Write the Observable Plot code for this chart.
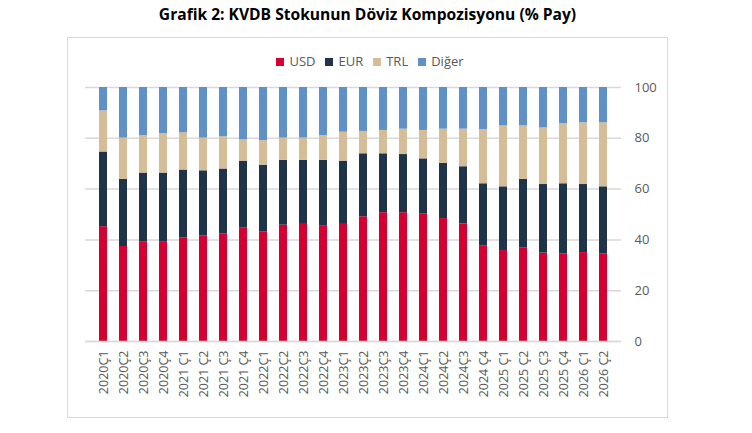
<!DOCTYPE html>
<html>
<head>
<meta charset="utf-8">
<script src="https://cdn.jsdelivr.net/npm/d3@7"></script>
<script src="https://cdn.jsdelivr.net/npm/@observablehq/plot@0.6"></script>
<style>
  html, body { margin: 0; padding: 0; background: #fff; }
  #wrap { position: relative; width: 752px; height: 433px; font-family: "Open Sans", sans-serif; }
  #title { position: absolute; left: 0; top: 3px; width: 735px; text-align: center; font-weight: 700; font-size: 15.6px; color: #000; }
  #frame { position: absolute; left: 67px; top: 37px; width: 599px; height: 379px; border: 1.5px solid #d9d9d9; }
  #legend { position: absolute; left: 0; top: 52px; width: 740px; text-align: center; font-size: 13px; color: #595959; }
  #legend span.item { margin: 0 5px; }
  #legend span.sw { display: inline-block; width: 8px; height: 8px; margin-right: 5px; vertical-align: 0px; }
  #chart { position: absolute; left: 68px; top: 72px; }
</style>
</head>
<body>
<div id="wrap">
  <div id="title">Grafik 2: KVDB Stokunun Döviz Kompozisyonu (% Pay)</div>
  <div id="frame"></div>
  <div id="legend"></div>
  <div id="chart"></div>
</div>
<script>
const quarters = ["2020Ç1","2020Ç2","2020Ç3","2020Ç4","2021 Ç1","2021 Ç2","2021 Ç3","2021 Ç4","2022Ç1","2022Ç2","2022Ç3","2022Ç4","2023Ç1","2023Ç2","2023Ç3","2023Ç4","2024Ç1","2024Ç2","2024Ç3","2024 Ç4","2025 Ç1","2025 Ç2","2025 Ç3","2025 Ç4","2026 Ç1","2026 Ç2"];
const usd   = [45.2,37.4,39.1,39.1,40.8,41.5,42.4,44.8,43.2,45.8,46.1,45.6,46.1,49.1,50.7,50.7,50.3,48.4,46.3,37.7,35.8,36.9,34.8,34.5,35.0,34.5];
const eur   = [29.4,26.4,27.2,27.2,26.7,25.7,25.5,26.2,26.2,25.5,25.2,25.7,24.9,24.8,23.2,22.9,21.6,21.7,22.5,24.4,25.1,26.9,27.0,27.6,26.8,26.4];
const trl   = [16.2,16.3,14.8,15.5,14.7,12.9,12.7,8.4,9.7,8.8,8.8,9.8,11.4,8.8,9.2,10.0,11.2,13.5,14.8,21.3,24.0,21.1,22.3,23.7,24.3,25.2];
const diger = [9.2,19.9,18.9,18.2,17.8,19.9,19.4,20.6,20.9,19.9,19.9,18.9,17.6,17.3,16.9,16.4,16.9,16.4,16.4,16.6,15.1,15.1,15.9,14.2,13.9,13.9];
const seriesNames = ["USD","EUR","TRL","Diğer"];
const seriesColors = ["#d50032","#1f3349","#d5bd97","#6090c8"];
const yTicks = [0,20,40,60,80,100];

const seriesValues = [usd, eur, trl, diger];
const rows = [];
quarters.forEach((q, i) => {
  seriesNames.forEach((s, j) => rows.push({q, s, v: seriesValues[j][i]}));
});

const legend = document.getElementById("legend");
seriesNames.forEach((s, j) => {
  const it = document.createElement("span");
  it.className = "item";
  it.innerHTML = `<span class="sw" style="background:${seriesColors[j]}"></span>${s}`;
  legend.appendChild(it);
});

const chart = Plot.plot({
  width: 598,
  height: 344,
  marginLeft: 17,
  marginRight: 45,
  marginTop: 15,
  marginBottom: 75,
  style: { fontFamily: "Open Sans, sans-serif", fontSize: "12.5px", color: "#595959", background: "transparent" },
  x: { domain: quarters, paddingInner: 0.6, paddingOuter: 0.3, label: null },
  y: { domain: [0, 100], ticks: yTicks, label: null },
  color: { domain: seriesNames, range: seriesColors },
  marks: [
    Plot.gridY(yTicks, { stroke: "#d9d9d9", strokeOpacity: 1, strokeWidth: 1.5 }),
    Plot.barY(rows, { x: "q", y: "v", fill: "s", order: seriesNames }),
    Plot.ruleY([0], { stroke: "#d9d9d9", strokeWidth: 1.5 }),
    Plot.axisY({ anchor: "right", ticks: yTicks, tickSize: 0, tickPadding: 13, fontSize: 13, label: null }),
    Plot.axisX({ tickRotate: -90, tickSize: 0, tickPadding: 9, label: null })
  ]
});
document.getElementById("chart").appendChild(chart);
</script>
</body>
</html>
